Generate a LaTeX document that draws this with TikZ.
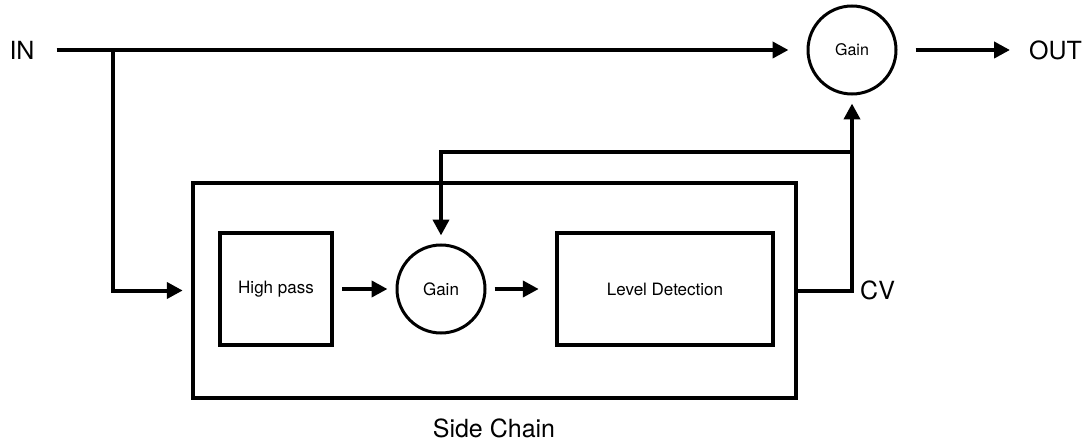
\documentclass[tikz,border=0pt]{standalone}
\usepackage{fontspec}
\setmainfont{TeX Gyre Heros}
\usetikzlibrary{arrows.meta}

\tikzset{
	wire/.style={line width=4pt},
	arr/.style={wire, -{Triangle[length=16pt,width=16pt]}, shorten >=8pt},
	gap/.style={shorten <=8pt},
	block/.style={draw, line width=4.5pt, inner sep=0pt},
	gainnode/.style={draw, circle, line width=3pt, minimum size=88pt, inner sep=0pt,
		font=\fontsize{17}{20}\selectfont},
	lbl/.style={font=\fontsize{25}{30}\selectfont, inner sep=2pt},
	small/.style={font=\fontsize{17}{20}\selectfont}
}

\begin{document}
\begin{tikzpicture}[x=1pt,y=-1pt]
			\useasboundingbox (0,0) rectangle (1087,441);
			% main path
			\node[lbl] (in) at (22,50) {IN};
			\node[gainnode, font=\fontsize{16}{19}\selectfont] (gainout) at (852,50) {Gain};
			\node[lbl, anchor=west] (out) at (1027,50) {OUT};
			% side chain
			\node[block, minimum width=603pt, minimum height=215pt] (side) at (494.5,290.5) {};
			\node[block, small, minimum width=112pt, minimum height=112pt] (hp) at (276,289) {High pass};
			\node[gainnode] (gainin) at (441,289) {Gain};
			\node[block, small, minimum width=216pt, minimum height=112pt] (ld) at (665,289) {Level Detection};
			\node[lbl, anchor=west] (cv) at (858,290) {CV};
			\node[lbl] (sidelabel) at (494,428) {Side Chain};
			\coordinate (split) at (113,50);
			\coordinate (tap) at (852,152);
			% connectors
			\draw[arr, shorten >=18pt] ([xshift=20pt]in.east) -- (gainout.west);
			\draw[arr, shorten >=17pt, gap, shorten <=18pt] (gainout.east) -- (out.west);
			\draw[arr] (split) |- (side.west);
			\draw[arr, gap] (hp) -- (gainin);
			\draw[arr, gap, shorten >=16pt] (gainin) -- (ld);
			\draw[arr] (side.east) -| (gainout.south);
			\draw[arr] (tap) -| (gainin.north);
\end{tikzpicture}
\end{document}
